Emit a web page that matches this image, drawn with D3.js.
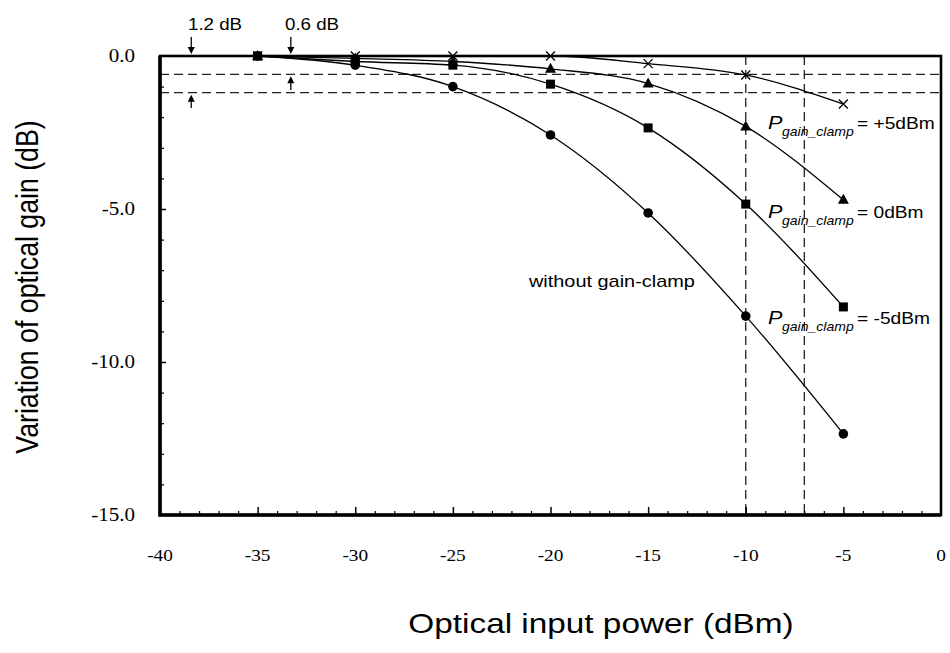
<!DOCTYPE html>
<html>
<head>
<meta charset="utf-8">
<script src="https://cdn.jsdelivr.net/npm/d3@7/dist/d3.min.js"></script>
<style>
html,body{margin:0;padding:0;background:#fff;}
svg{display:block;}
</style>
</head>
<body>
<svg id="chart" width="950" height="653"></svg>
<script>
// ---------------- data ----------------
const inputPower = [-35, -30, -25, -20, -15, -10, -5];
const withoutClamp = [0, -0.3, -1.0, -2.58, -5.13, -8.5, -12.35];
const clampMinus5 = [0, -0.18, -0.3, -0.92, -2.35, -4.84, -8.2];
const clamp0 = [0, -0.08, -0.18, -0.42, -0.9, -2.3, -4.7];
const clampPlus5 = [0, 0, 0, 0, -0.25, -0.62, -1.57];
const xTicks = [-40, -35, -30, -25, -20, -15, -10, -5, 0];
const yTicks = [0, -5, -10, -15];
const refGainLevels = [-0.6, -1.2];
const refPowerLevels = [-10, -7];
const clampLabels = ["= +5dBm", "= 0dBm", "= -5dBm"];

// ---------------- layout ----------------
const SX = 1.17; // horizontal stretch of the text in the reference
const SANS = "Liberation Sans";
const SERIF = "Liberation Serif";
const svg = d3.select("#chart");
const x = d3.scaleLinear().domain([-40, 0]).range([160, 941]);
const y = d3.scaleLinear().domain([-15, 0]).range([515, 56]);

function stext(g, str, px, py, opts) {
  opts = opts || {};
  const t = g.append("text")
    .attr("transform", `translate(${px},${py}) scale(${SX},1)`)
    .style("font-family", opts.serif ? SERIF : SANS)
    .attr("font-size", opts.size || 16)
    .attr("text-anchor", opts.anchor || "start")
    .attr("fill", "#000")
    .text(str);
  if (opts.italic) t.attr("font-style", "italic");
  return t;
}

// dashed reference lines
const refG = svg.append("g").attr("stroke", "#222").attr("stroke-width", 1.3)
  .attr("stroke-dasharray", "9,5").attr("fill", "none");
refGainLevels.forEach(v => {
  refG.append("line").attr("x1", x(-40)).attr("x2", x(0)).attr("y1", y(v)).attr("y2", y(v));
});
refPowerLevels.forEach(v => {
  refG.append("line").attr("x1", x(v)).attr("x2", x(v)).attr("y1", y(0)).attr("y2", y(-15));
});

// axis ticks (inward) using d3 axes
const xMinor = d3.range(-39, 0, 1).filter(d => d % 5 !== 0);
const yMinor = d3.range(-14, 0, 1).filter(d => d % 5 !== 0);

svg.append("g").attr("transform", `translate(0,${y(-15)})`)
  .call(d3.axisTop(x).tickValues(xMinor).tickSize(4).tickFormat(""))
  .call(g => g.select(".domain").remove())
  .call(g => g.selectAll("line").attr("stroke", "#000").attr("stroke-width", 1.2));
svg.append("g").attr("transform", `translate(0,${y(-15)})`)
  .call(d3.axisTop(x).tickValues(xTicks.slice(1, -1)).tickSize(8).tickFormat(""))
  .call(g => g.select(".domain").remove())
  .call(g => g.selectAll("line").attr("stroke", "#000").attr("stroke-width", 1.5));
svg.append("g").attr("transform", `translate(${x(-40)},0)`)
  .call(d3.axisRight(y).tickValues(yMinor).tickSize(4).tickFormat(""))
  .call(g => g.select(".domain").remove())
  .call(g => g.selectAll("line").attr("stroke", "#000").attr("stroke-width", 1.2));
svg.append("g").attr("transform", `translate(${x(-40)},0)`)
  .call(d3.axisRight(y).tickValues([-5, -10]).tickSize(6).tickFormat(""))
  .call(g => g.select(".domain").remove())
  .call(g => g.selectAll("line").attr("stroke", "#000").attr("stroke-width", 1.5));

// frame
svg.append("rect").attr("x", x(-40)).attr("y", y(0))
  .attr("width", x(0) - x(-40)).attr("height", y(-15) - y(0))
  .attr("fill", "none").attr("stroke", "#000").attr("stroke-width", 2.6);
svg.append("path")
  .attr("d", `M${x(-40)},${y(0)} L${x(-40)},${y(-15)} L${x(0)},${y(-15)}`)
  .attr("fill", "none").attr("stroke", "#000").attr("stroke-width", 3.6);

// tick labels (serif)
const tl = svg.append("g");
xTicks.forEach(v => {
  stext(tl, String(v), x(v), 561, {serif: true, size: 16.5, anchor: "middle"});
});
yTicks.forEach(v => {
  stext(tl, v.toFixed(1), 135, y(v) + 6, {serif: true, size: 18, anchor: "end"});
});

// axis titles
svg.append("text")
  .attr("transform", `translate(38,287) rotate(-90) scale(1,${SX})`)
  .style("font-family", SANS)
  .attr("font-size", 26.7).attr("text-anchor", "middle").attr("fill", "#000")
  .text("Variation of optical gain (dB)");
stext(svg, "Optical input power (dBm)", 601, 633, {size: 28.5, anchor: "middle"});

// series
const series = [
  {vals: withoutClamp, shape: "circle"},
  {vals: clampMinus5, shape: "square"},
  {vals: clamp0, shape: "triangle"},
  {vals: clampPlus5, shape: "cross"}
];
const line = d3.line().x(d => x(d[0])).y(d => y(d[1])).curve(d3.curveMonotoneX);
const sg = svg.append("g");
series.forEach(s => {
  const pts = inputPower.map((p, i) => [p, s.vals[i]]);
  sg.append("path").attr("d", line(pts)).attr("fill", "none")
    .attr("stroke", "#000").attr("stroke-width", 1.3);
});
series.forEach(s => {
  const pts = inputPower.map((p, i) => [p, s.vals[i]]);
  pts.forEach(d => {
    const cx = x(d[0]), cy = y(d[1]);
    if (s.shape === "circle") {
      sg.append("circle").attr("cx", cx).attr("cy", cy).attr("r", 4.8).attr("fill", "#000");
    } else if (s.shape === "square") {
      sg.append("rect").attr("x", cx - 4.5).attr("y", cy - 4.5).attr("width", 9).attr("height", 9).attr("fill", "#000");
    } else if (s.shape === "triangle") {
      sg.append("path").attr("d", `M${cx},${cy - 6} L${cx + 5.5},${cy + 4} L${cx - 5.5},${cy + 4} Z`).attr("fill", "#000");
    } else {
      sg.append("path").attr("d", `M${cx - 4.5},${cy - 4.5} L${cx + 4.5},${cy + 4.5} M${cx - 4.5},${cy + 4.5} L${cx + 4.5},${cy - 4.5}`)
        .attr("stroke", "#000").attr("stroke-width", 1.3).attr("fill", "none");
    }
  });
});

// arrows
function arrow(px, y1, y2) {
  const dir = y2 > y1 ? 1 : -1;
  svg.append("line").attr("x1", px).attr("x2", px).attr("y1", y1).attr("y2", y2 - dir * 5)
    .attr("stroke", "#000").attr("stroke-width", 1.3);
  svg.append("path").attr("d", `M${px - 3.5},${y2 - dir * 7} L${px + 3.5},${y2 - dir * 7} L${px},${y2} Z`).attr("fill", "#000");
}
arrow(x(-38.4), 37, y(0) - 2);
arrow(x(-38.4), 108, y(-1.2) + 2);
arrow(x(-33.3), 37, y(0) - 2);
arrow(x(-33.3), 90, y(-0.6) + 2);

stext(svg, "1.2 dB", 188, 30, {size: 16});
stext(svg, "0.6 dB", 285, 30, {size: 16});

// curve labels
stext(svg, "without gain-clamp", 529, 287, {size: 17});
const labelY = [129, 218, 324];
clampLabels.forEach((lab, i) => {
  const g = svg.append("g");
  const px = 768;
  stext(g, "P", px, labelY[i], {size: 18.5, italic: true});
  stext(g, "gain_clamp", px + 14, labelY[i] + 7, {size: 12, italic: true});
  stext(g, lab, 857, labelY[i], {size: 16.4});
});
</script>
</body>
</html>
